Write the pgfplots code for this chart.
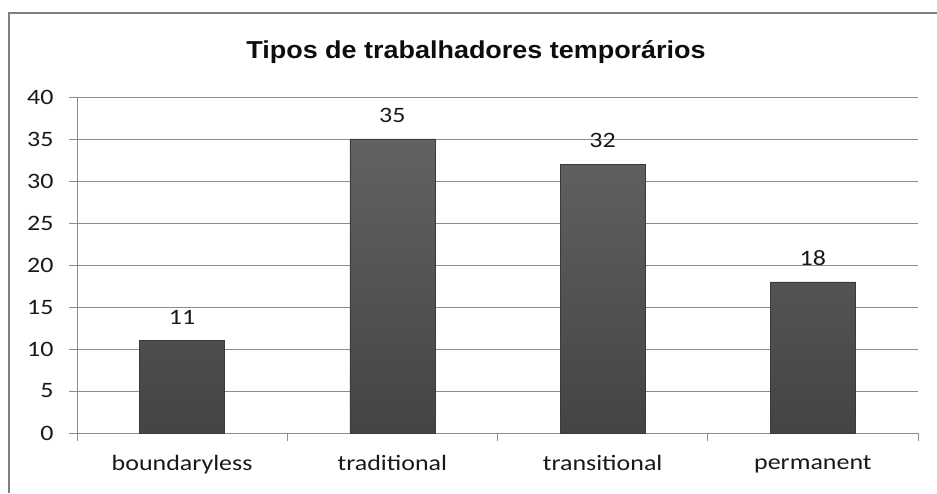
\documentclass[border=0pt]{standalone}
\usepackage{pgfplots}
\pgfplotsset{compat=1.18}
\usepackage{fontspec}
\setmainfont[FakeStretch=1.18]{Carlito}
\newfontfamily\titlefont[FakeStretch=1.1]{Liberation Sans}
\definecolor{gridc}{HTML}{8C8C8C}
\definecolor{frame}{HTML}{7F7F7F}
\definecolor{bartop}{HTML}{626262}
\definecolor{barbot}{HTML}{444444}
\definecolor{baredge}{HTML}{3A3A3A}
\begin{document}
\begin{tikzpicture}
\useasboundingbox (0pt,0pt) rectangle (937pt,493pt);
\draw[frame, line width=2pt] (9pt,0pt) -- (9pt,480pt) -- (937pt,480pt);
\node[font=\titlefont\bfseries\fontsize{24.5}{28}\selectfont, text=black!95, anchor=center] at (476pt,441pt) {Tipos de trabalhadores temporários};
\begin{axis}[
  at={(77pt,60pt)}, anchor=south west,
  scale only axis, width=841pt, height=336pt,
  xmin=-0.5, xmax=3.5, ymin=0, ymax=40,
  ytick={0,5,...,40},
  xtick={0,1,2,3},
  xticklabels={boundaryless,traditional,transitional,permanent},
  minor xtick={-0.5,0.5,1.5,2.5,3.5},
  axis x line*=bottom, axis y line*=left,
  axis line style={gridc, line width=0.8pt, -},
  tick align=outside,
  major x tick style={draw=none},
  minor x tick style={gridc, line width=0.8pt},
  minor tick length=8pt,
  y tick style={gridc, line width=0.8pt},
  major tick length=8pt,
  ymajorgrids, grid style={gridc, line width=0.8pt},
  ticklabel style={font=\fontsize{22}{26}\selectfont, text=black!90},
  /pgf/number format/assume math mode=true,
  yticklabel style={xshift=-12pt},
  xticklabel style={yshift=-11pt},
  ybar, bar width=85pt,
  nodes near coords,
  every node near coord/.append style={font=\fontsize{22}{26}\selectfont, text=black!90, yshift=13pt},
  clip=false,
]
\addplot[draw=baredge, top color=bartop, bottom color=barbot]
  coordinates {(0,11) (1,35) (2,32) (3,18)};
\end{axis}
\end{tikzpicture}
\end{document}
